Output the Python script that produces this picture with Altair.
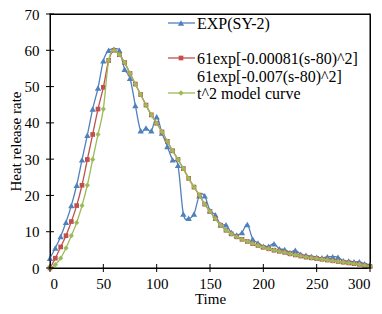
import altair as alt
import pandas as pd

time = list(range(0, 305, 5))

exp_sy2 = [2.7, 5.5, 8.7, 12.6, 17.2, 22.8, 29.8, 36.6, 43.8, 49.6,
           57.1, 60.0, 60.3, 60.0, 54.8, 52.3, 44.8, 37.8, 38.6, 37.8,
           41.7, 37.2, 33.5, 29.8, 28.3, 14.9, 13.7, 14.9, 19.9, 19.9,
           15.8, 14.7, 11.9, 11.9, 9.8, 9.1, 9.8, 12.0, 8.0, 6.9,
           6.0, 6.0, 6.7, 5.3, 5.1, 4.3, 4.9, 3.8, 3.5, 3.2,
           3.0, 2.8, 3.1, 3.1, 3.0, 2.0, 1.9, 1.7, 1.7, 1.2, 0.9]

decay = [58.8, 56.6, 53.6, 50.7, 47.8, 44.9, 42.2, 39.9, 37.5, 34.9,
         32.3, 29.9, 27.4, 24.7, 22.3, 20.1, 17.6, 15.6, 13.6, 11.8,
         10.4, 9.4, 8.6, 7.9, 7.3, 6.7, 6.2, 5.7, 5.3, 4.9,
         4.6, 4.3, 3.9, 3.6, 3.3, 3.0, 2.8, 2.6, 2.4, 2.2,
         2.0, 1.8, 1.6, 1.4, 1.2, 1.0, 0.7, 0.4]

model_a = [0.0, 2.7, 5.8, 8.9, 12.8, 17.2, 22.8, 29.9, 36.8, 43.8,
           49.8, 57.2, 60.0] + decay
model_t2 = [0.0, 0.9, 2.7, 5.5, 8.9, 12.5, 17.2, 22.8, 29.9, 36.8,
            43.8, 57.2, 60.0] + decay

x_ticks = [0, 50, 100, 150, 200, 250, 300]
y_ticks = [0, 10, 20, 30, 40, 50, 60, 70]

legend_labels = ["EXP(SY-2)", "61exp[-0.00081(s-80)^2]",
                 "61exp[-0.007(s-80)^2]", "t^2 model curve"]

df = pd.DataFrame({"time": time, "EXP": exp_sy2, "A": model_a, "T2": model_t2})

W, H = 320, 254
FONT = "'Liberation Serif', 'Times New Roman', serif"
BLUE, RED, GREEN = "#4F81BD", "#C0504D", "#9BBB59"
EDGE = "#000000"

xs = alt.Scale(domain=[0, 300], nice=False)
ys = alt.Scale(domain=[0, 70], nice=False)
x_axis = alt.Axis(values=x_ticks, title="Time", ticks=False, domain=False,
                  grid=False, labelPadding=8, titlePadding=0)
y_axis = alt.Axis(values=y_ticks, title="Heat release rate", ticks=False,
                  domain=False, grid=False, labelPadding=11, titlePadding=1)


def series(col, color, shape, size):
    base = alt.Chart(df).encode(
        x=alt.X("time:Q", scale=xs, axis=x_axis),
        y=alt.Y(f"{col}:Q", scale=ys, axis=y_axis),
    )
    line = base.mark_line(color=color, strokeWidth=1.3, interpolate="cardinal")
    pts = base.mark_point(shape=shape, filled=True, color=color, size=size,
                          opacity=1, strokeWidth=0)
    return [line, pts]


one = pd.DataFrame({"a": [0]})


def bar(x1, x2, y1, y2):
    # thin filled rectangle used for the plot frame
    return alt.Chart(one).mark_rect(color=EDGE, opacity=1).encode(
        x=alt.value(x1), x2=alt.value(x2), y=alt.value(y1), y2=alt.value(y2))


frame = [bar(-0.5, W + 0.5, -0.5, 0.5), bar(-0.5, W + 0.5, H - 0.5, H + 0.5),
         bar(-0.5, 0.5, -0.5, H + 0.5), bar(W - 0.5, W + 0.5, -0.5, H + 0.5)]

tick_df_x = pd.DataFrame({"t": x_ticks})
tick_df_y = pd.DataFrame({"v": y_ticks})
xt = alt.Chart(tick_df_x).mark_tick(color=EDGE, thickness=1, size=8, opacity=1,
                                    orient="vertical").encode(
    x=alt.X("t:Q", scale=xs, axis=x_axis), y=alt.value(H))
yt = alt.Chart(tick_df_y).mark_tick(color=EDGE, thickness=1, size=8, opacity=1,
                                    orient="horizontal").encode(
    y=alt.Y("v:Q", scale=ys, axis=y_axis), x=alt.value(0))


def legend_item(label, ypos, color=None, shape=None, size=0):
    items = []
    if color is not None:
        items.append(alt.Chart(one).mark_rule(color=color, strokeWidth=1.3).encode(
            x=alt.value(118), x2=alt.value(145), y=alt.value(ypos)))
        items.append(alt.Chart(one).mark_point(shape=shape, filled=True, color=color,
                                               size=size, opacity=1, strokeWidth=0).encode(
            x=alt.value(131), y=alt.value(ypos)))
    items.append(alt.Chart(one).mark_text(align="left", baseline="middle", font=FONT,
                                          fontSize=16, color="black").encode(
        x=alt.value(147), y=alt.value(ypos + 1), text=alt.value(label)))
    return items


layers = []
layers += series("EXP", BLUE, "triangle-up", 40)
layers += series("A", RED, "square", 22)
layers += series("T2", GREEN, "diamond", 28)
layers += frame + [xt, yt]
layers += legend_item(legend_labels[0], 9, BLUE, "triangle-up", 40)
layers += legend_item(legend_labels[1], 44, RED, "square", 22)
layers += legend_item(legend_labels[2], 62)
layers += legend_item(legend_labels[3], 79, GREEN, "diamond", 28)

chart = alt.layer(*layers).properties(
    width=W, height=H,
    padding={"left": 42, "top": 6, "right": 4, "bottom": 38},
    autosize=alt.AutoSizeParams(type="none"),
).configure_view(stroke=EDGE, strokeWidth=1).configure_axis(
    labelFont=FONT, labelFontSize=15, labelColor="black",
    titleFont=FONT, titleFontSize=15, titleFontWeight="normal", titleColor="black",
)

chart.save("out.html", embed_options={"renderer": "svg", "actions": False})
